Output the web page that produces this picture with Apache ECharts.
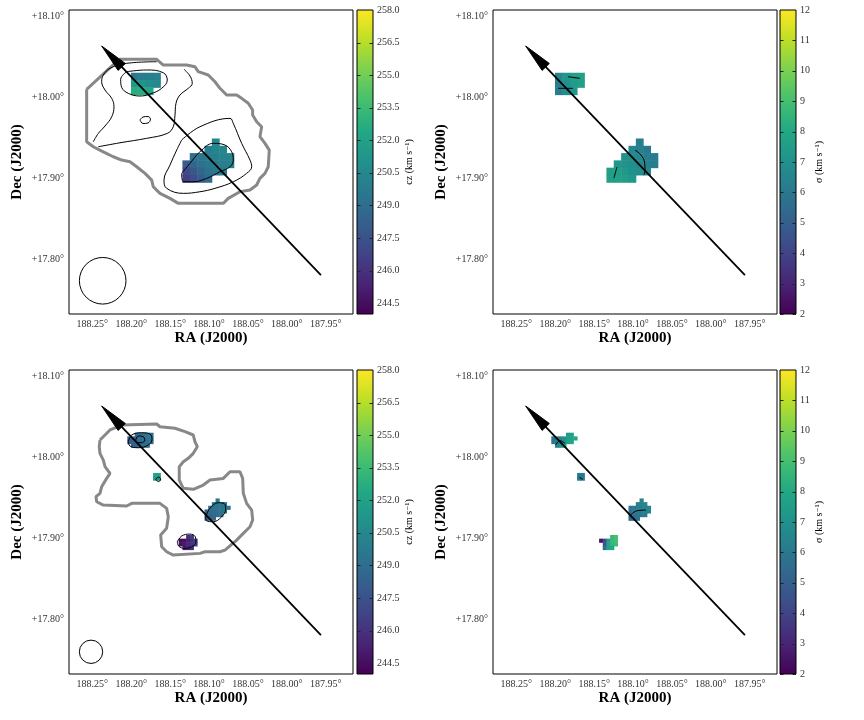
<!DOCTYPE html>
<html>
<head>
<meta charset="utf-8">
<title>HI velocity field and dispersion</title>
<script src="https://cdn.jsdelivr.net/npm/echarts@6/dist/echarts.min.js"></script>
<style>
  html, body { margin: 0; padding: 0; background: #fff; }
  #chart { width: 864px; height: 720px; }
</style>
</head>
<body>
<div id="chart"></div>
<script>
// tick labels
const raTicks = [188.25, 188.20, 188.15, 188.10, 188.05, 188.00, 187.95];
const decTicks = [17.80, 17.90, 18.00, 18.10];
const czTicks = [244.5, 246.0, 247.5, 249.0, 250.5, 252.0, 253.5, 255.0, 256.5, 258.0];
const sigmaTicks = [2, 3, 4, 5, 6, 7, 8, 9, 10, 11, 12];

// pixel centres of the low (top row) and high (bottom row) resolution cubes
const raLo = [188.1956, 188.1862, 188.1767, 188.1673, 188.1578, 188.1484, 188.1390, 188.1295,
  188.1201, 188.1106, 188.1012, 188.0917, 188.0823, 188.0729, 188.0634];
const decLo = [18.0261, 18.0171, 18.0081, 17.9991, 17.9901, 17.9811, 17.9721, 17.9630,
  17.9540, 17.9450, 17.9360, 17.9270, 17.9180, 17.9090, 17.9000];
const raHi = [188.2074, 188.2027, 188.1980, 188.1932, 188.1885, 188.1838, 188.1791, 188.1743,
  188.1696, 188.1649, 188.1602, 188.1555, 188.1507, 188.1460, 188.1413, 188.1366, 188.1318,
  188.1271, 188.1224, 188.1177, 188.1130, 188.1082, 188.1035, 188.0988, 188.0941, 188.0893,
  188.0846, 188.0799, 188.0752];
const decHi = [18.0374, 18.0329, 18.0284, 18.0239, 18.0194, 18.0149, 18.0104, 18.0059,
  18.0014, 17.9969, 17.9924, 17.9878, 17.9833, 17.9788, 17.9743, 17.9698, 17.9653, 17.9608,
  17.9563, 17.9518, 17.9473, 17.9428, 17.9383, 17.9338, 17.9293, 17.9248, 17.9203, 17.9157,
  17.9112, 17.9067, 17.9022, 17.8977, 17.8932, 17.8887];
const pixLo = [0.00944, 0.00901];
const pixHi = [0.00472, 0.00450];

// map rows: [row, first column, values...]
const czLo = [
  [0, 0, [249.6, 249.8, 250.0, 250.2]],
  [1, 0, [251.5, 251.2, 250.8, 250.5]],
  [2, 0, [252.6, 252.6, 252.3]],
  [9, 11, [250.5]],
  [10, 10, [250.0, 250.3, 250.4]],
  [11, 8, [249.2, 249.5, 249.8, 250.0, 250.2, 250.3]],
  [12, 7, [248.0, 248.6, 249.2, 249.6, 249.8, 250.0, 250.1]],
  [13, 7, [247.0, 247.8, 248.6, 249.2, 249.5, 249.8]],
  [14, 7, [246.6, 247.2, 248.0, 248.8]]
];
const sigmaLo = [
  [0, 0, [6.6, 7.2, 7.5, 7.6]],
  [1, 0, [6.3, 6.9, 7.4, 7.6]],
  [2, 0, [6.2, 6.8, 7.2]],
  [9, 11, [6.2]],
  [10, 10, [6.6, 6.3, 6.1]],
  [11, 9, [7.0, 6.8, 6.5, 6.2, 6.1]],
  [12, 8, [7.2, 7.1, 6.9, 6.6, 6.3, 6.2]],
  [13, 7, [7.6, 7.5, 7.3, 7.0, 6.8, 6.6]],
  [14, 7, [7.6, 7.6, 7.5, 7.3]]
];
const czHi = [
  [2, 3, [248.8, 249.0, 249.2, 249.3, 249.4]],
  [3, 1, [248.2, 248.5, 248.7, 248.9, 249.1, 249.2, 249.3]],
  [4, 1, [248.0, 248.3, 248.6, 248.8, 249.0, 249.1, 249.2]],
  [5, 2, [248.2, 248.5, 248.7, 248.9, 249.0]],
  [13, 8, [252.2, 252.2]],
  [14, 8, [251.3, 251.3]],
  [20, 25, [249.6]],
  [21, 24, [249.3, 249.4, 249.5, 249.6]],
  [22, 23, [249.0, 249.2, 249.3, 249.4, 249.5, 249.5]],
  [23, 22, [248.6, 248.8, 249.0, 249.2, 249.3, 249.4]],
  [24, 22, [248.4, 248.6, 248.8, 249.0, 249.1]],
  [25, 22, [248.3, 248.5, 248.7]],
  [30, 17, [245.8, 246.5]],
  [31, 15, [244.3, 244.6, 245.2, 245.9, 246.4]],
  [32, 15, [244.5, 244.9, 245.5, 246.0, 246.3]],
  [33, 16, [245.0, 245.4, 245.8]]
];
const sigmaHi = [
  [2, 5, [7.4, 7.6]],
  [3, 1, [5.8, 6.0, 6.4, 7.0, 7.5, 7.8, 7.9]],
  [4, 1, [5.9, 6.1, 6.5, 7.1, 7.6, 7.9]],
  [5, 2, [6.4, 6.8, 7.3]],
  [13, 8, [6.1, 6.1]],
  [14, 8, [6.1, 6.1]],
  [20, 25, [6.4]],
  [21, 24, [6.3, 6.4, 6.5]],
  [22, 22, [5.8, 6.0, 6.2, 6.3, 6.4, 6.5]],
  [23, 22, [5.7, 5.9, 6.1, 6.2, 6.3, 6.4]],
  [24, 22, [5.5, 5.7, 5.9, 6.0, 6.1]],
  [25, 22, [5.4, 5.6, 5.8]],
  [30, 17, [8.6, 9.0]],
  [31, 14, [2.5, 4.3, 7.5, 8.7, 9.0]],
  [32, 15, [4.6, 7.8, 8.5, 8.8]],
  [33, 15, [5.5, 7.6, 8.0]]
];

// HI mask outlines (grey)
const outlineLo = [
  [188.2573, 18.0101], [188.2573, 17.9455], [188.2488, 17.9393], [188.2359, 17.9331],
  [188.2231, 17.9270], [188.2123, 17.9229], [188.2016, 17.9208], [188.1930, 17.9146],
  [188.1823, 17.9065], [188.1737, 17.8982], [188.1717, 17.8900], [188.1631, 17.8818],
  [188.1502, 17.8756], [188.1395, 17.8695], [188.0817, 17.8695], [188.0753, 17.8756],
  [188.0603, 17.8838], [188.0474, 17.8859], [188.0388, 17.8921], [188.0346, 17.9003],
  [188.0281, 17.9065], [188.0239, 17.9146], [188.0226, 17.9352], [188.0281, 17.9435],
  [188.0346, 17.9517], [188.0324, 17.9640], [188.0388, 17.9702], [188.0440, 17.9784],
  [188.0440, 17.9846], [188.0496, 17.9929], [188.0581, 17.9990], [188.0645, 18.0031],
  [188.0774, 18.0031], [188.0860, 18.0114], [188.0924, 18.0195], [188.1010, 18.0278],
  [188.1139, 18.0319], [188.1181, 18.0380], [188.1288, 18.0401], [188.1588, 18.0401],
  [188.1673, 18.0472], [188.2145, 18.0472], [188.2187, 18.0442], [188.2573, 18.0101]
];
const outlineHi = [
  [188.2402, 18.0216], [188.2273, 18.0340], [188.2123, 18.0401], [188.1673, 18.0414],
  [188.1631, 18.0380], [188.1438, 18.0361], [188.1309, 18.0319], [188.1203, 18.0278],
  [188.1181, 18.0195], [188.1151, 18.0134], [188.1203, 18.0052], [188.1267, 17.9990],
  [188.1331, 17.9948], [188.1383, 17.9887], [188.1383, 17.9723], [188.1331, 17.9620],
  [188.1203, 17.9608], [188.1074, 17.9661], [188.0988, 17.9723], [188.0817, 17.9743],
  [188.0731, 17.9825], [188.0603, 17.9825], [188.0568, 17.9743], [188.0560, 17.9559],
  [188.0517, 17.9435], [188.0452, 17.9352], [188.0439, 17.9229], [188.0474, 17.9146],
  [188.0560, 17.9065], [188.0645, 17.8982], [188.0795, 17.8859], [188.0860, 17.8838],
  [188.1052, 17.8838], [188.1117, 17.8818], [188.1460, 17.8797], [188.1545, 17.8838],
  [188.1609, 17.8900], [188.1622, 17.9044], [188.1545, 17.9127], [188.1524, 17.9270],
  [188.1545, 17.9373], [188.1631, 17.9435], [188.1994, 17.9435], [188.2059, 17.9402],
  [188.2359, 17.9414], [188.2444, 17.9455], [188.2453, 17.9517], [188.2402, 17.9559],
  [188.2380, 17.9640], [188.2316, 17.9743], [188.2273, 17.9805], [188.2337, 17.9887],
  [188.2359, 17.9969], [188.2402, 18.0052], [188.2411, 18.0134], [188.2402, 18.0216]
];

// column density contours (black)
const contoursLo = [
  [[188.1673, 18.0442], [188.2059, 18.0422], [188.2273, 18.0361], [188.2359, 18.0278],
   [188.2380, 18.0195], [188.2337, 18.0093], [188.2251, 17.9990], [188.2222, 17.9887],
   [188.2251, 17.9763], [188.2337, 17.9649], [188.2423, 17.9558], [188.2488, 17.9455]],
  [[188.1322, 18.0348], [188.1245, 18.0266], [188.1216, 18.0175], [188.1267, 18.0114],
   [188.1374, 18.0031], [188.1425, 17.9929], [188.1438, 17.9784], [188.1460, 17.9640],
   [188.1537, 17.9558], [188.1802, 17.9497], [188.2145, 17.9442], [188.2423, 17.9393]],
  [[188.2059, 18.0319], [188.1802, 18.0340], [188.1588, 18.0306], [188.1537, 18.0216],
   [188.1609, 18.0114], [188.1759, 18.0043], [188.1888, 18.0019], [188.2038, 18.0052],
   [188.2123, 18.0126], [188.2136, 18.0225], [188.2059, 18.0319]],
  [[188.1888, 17.9723], [188.1849, 17.9760], [188.1785, 17.9766], [188.1753, 17.9735],
   [188.1785, 17.9686], [188.1849, 17.9680], [188.1888, 17.9723]],
  [[188.1352, 17.9065], [188.1245, 17.9188], [188.1117, 17.9331], [188.0946, 17.9435],
   [188.0795, 17.9414], [188.0709, 17.9331], [188.0689, 17.9229], [188.0731, 17.9146],
   [188.0860, 17.9085], [188.1031, 17.9003], [188.1203, 17.8961], [188.1331, 17.8961],
   [188.1352, 17.9065]],
  [[188.1352, 17.9476], [188.1117, 17.9640], [188.0731, 17.9743], [188.0689, 17.9682],
   [188.0581, 17.9435], [188.0474, 17.9229], [188.0452, 17.9146], [188.0517, 17.9065],
   [188.0689, 17.8961], [188.0924, 17.8880], [188.1117, 17.8838], [188.1331, 17.8818],
   [188.1545, 17.8880], [188.1579, 17.8982], [188.1502, 17.9167], [188.1416, 17.9352],
   [188.1352, 17.9476]]
];
const contoursHi = [
  [[188.2038, 18.0195], [188.1994, 18.0278], [188.1866, 18.0306], [188.1759, 18.0290],
   [188.1733, 18.0225], [188.1781, 18.0155], [188.1910, 18.0121], [188.2016, 18.0142],
   [188.2038, 18.0195]],
  [[188.1943, 18.0216], [188.1910, 18.0266], [188.1845, 18.0257], [188.1827, 18.0216],
   [188.1866, 18.0183], [188.1922, 18.0183], [188.1943, 18.0216]],
  [[188.1682, 17.9731], [188.1653, 17.9760], [188.1622, 17.9731], [188.1653, 17.9702],
   [188.1682, 17.9731]],
  [[188.1043, 17.9270], [188.0988, 17.9373], [188.0882, 17.9443], [188.0808, 17.9435],
   [188.0786, 17.9361], [188.0838, 17.9270], [188.0946, 17.9208], [188.1031, 17.9220],
   [188.1043, 17.9270]],
  [[188.1408, 17.8961], [188.1352, 17.9032], [188.1245, 17.9056], [188.1177, 17.9023],
   [188.1168, 17.8961], [188.1223, 17.8900], [188.1322, 17.8880], [188.1390, 17.8908],
   [188.1408, 17.8961]]
];
const sigmaContoursLo = [
  [[188.1836, 18.0257], [188.1682, 18.0237]],
  [[188.1965, 18.0114], [188.1772, 18.0114]],
  [[188.0975, 17.9352], [188.0898, 17.9291], [188.0853, 17.9204], [188.0847, 17.9106], [188.0860, 17.9044]],
  [[188.1207, 17.9143], [188.1245, 17.9007]]
];
const sigmaContoursHi = [
  [[188.1994, 18.0155], [188.1939, 18.0208], [188.1875, 18.0175]],
  [[188.1040, 17.9278], [188.0988, 17.9328], [188.0911, 17.9349], [188.0834, 17.9352]],
  [[188.1691, 17.9756], [188.1647, 17.9731]]
];

// major axis arrow and beams [ra, dec, diameter in deg]
const arrowTip = [188.2380, 18.0636];
const arrowTail = [187.9562, 17.7810];
const beamLo = [188.2367, 17.7740, 0.0575];
const beamHi = [188.2517, 17.7604, 0.0288];

const viridis = ['#440154', '#482475', '#414487', '#355f8d', '#2a788e', '#21918c',
  '#22a884', '#44bf70', '#7ad151', '#bddf26', '#fde725'];
const font = "'Liberation Serif', 'DejaVu Serif', serif";

const chart = echarts.init(document.getElementById("chart"));

const panels = [
  { left: 69, top: 10, cbLeft: 357, cells: czLo, ra: raLo, dec: decLo, pix: pixLo,
    outline: outlineLo, contours: contoursLo, beam: beamLo, kind: "cz" },
  { left: 493, top: 10, cbLeft: 780, cells: sigmaLo, ra: raLo, dec: decLo, pix: pixLo,
    outline: null, contours: sigmaContoursLo, beam: null, kind: "sigma" },
  { left: 69, top: 370, cbLeft: 357, cells: czHi, ra: raHi, dec: decHi, pix: pixHi,
    outline: outlineHi, contours: contoursHi, beam: beamHi, kind: "cz" },
  { left: 493, top: 370, cbLeft: 780, cells: sigmaHi, ra: raHi, dec: decHi, pix: pixHi,
    outline: null, contours: sigmaContoursHi, beam: null, kind: "sigma" }
];

const scales = {
  cz: { min: 244.0, max: 258.0, ticks: czTicks, fmt: v => v.toFixed(1), name: "cz (km s⁻¹)", gap: 31 },
  sigma: { min: 2, max: 12, ticks: sigmaTicks, fmt: v => String(v), name: "σ (km s⁻¹)", gap: 17 }
};

const grid = [], xAxis = [], yAxis = [], series = [], visualMap = [];

panels.forEach((p, i) => {
  grid.push({ left: p.left, top: p.top, width: 284, height: 304, show: true,
    borderColor: "#000", borderWidth: 1, backgroundColor: "#fff" });
  xAxis.push({
    type: "value", gridIndex: i, min: 187.915, max: 188.280, inverse: true,
    splitLine: { show: false }, axisLine: { show: false }, axisTick: { show: false },
    axisLabel: { customValues: raTicks, formatter: v => v.toFixed(2) + "°",
      fontFamily: font, fontSize: 10, color: "#333", margin: 5 },
    name: "RA (J2000)", nameLocation: "middle", nameGap: 17,
    nameTextStyle: { fontFamily: font, fontSize: 15, fontWeight: "bold", color: "#000" }
  });
  yAxis.push({
    type: "value", gridIndex: i, min: 17.733, max: 18.108,
    splitLine: { show: false }, axisLine: { show: false }, axisTick: { show: false },
    axisLabel: { customValues: decTicks, formatter: v => "+" + v.toFixed(2) + "°",
      fontFamily: font, fontSize: 10, color: "#333", margin: 5 },
    name: "Dec (J2000)", nameLocation: "middle", nameGap: 44, nameRotate: 90,
    nameTextStyle: { fontFamily: font, fontSize: 15, fontWeight: "bold", color: "#000" }
  });
});

// colorbar grids
panels.forEach((p, i) => {
  const s = scales[p.kind];
  grid.push({ left: p.cbLeft, top: p.top, width: 16, height: 304 });
  xAxis.push({ type: "value", gridIndex: 4 + i, min: 0, max: 1, show: false });
  yAxis.push({
    type: "value", gridIndex: 4 + i, min: s.min, max: s.max, position: "right",
    splitLine: { show: false }, axisLine: { show: false }, axisTick: { show: false },
    axisLabel: { customValues: s.ticks, formatter: s.fmt, fontFamily: font, fontSize: 10,
      color: "#333", margin: 4 },
    name: s.name, nameLocation: "middle", nameGap: s.gap, nameRotate: 90,
    nameTextStyle: { fontFamily: font, fontSize: 10, color: "#000" }
  });
});

panels.forEach((p, i) => {
  const s = scales[p.kind];
  const data = [];
  p.cells.forEach(([row, col0, vals]) => {
    vals.forEach((v, n) => data.push([p.ra[col0 + n], p.dec[row], v]));
  });
  const pix = p.pix;
  visualMap.push({ show: false, type: "continuous", seriesIndex: series.length, dimension: 2,
    min: s.min, max: s.max, inRange: { color: viridis } });
  series.push({
    type: "custom", xAxisIndex: i, yAxisIndex: i, clip: true, z: 2,
    encode: { x: 0, y: 1 }, data,
    renderItem: (params, api) => {
      const a = api.coord([api.value(0) + pix[0] / 2, api.value(1) + pix[1] / 2]);
      const b = api.coord([api.value(0) - pix[0] / 2, api.value(1) - pix[1] / 2]);
      return { type: "rect",
        shape: { x: Math.min(a[0], b[0]), y: Math.min(a[1], b[1]),
          width: Math.abs(b[0] - a[0]) + 0.5, height: Math.abs(b[1] - a[1]) + 0.5 },
        style: { fill: api.visual("color") } };
    }
  });

  if (p.outline) {
    series.push({ type: "line", xAxisIndex: i, yAxisIndex: i, data: p.outline, z: 3,
      symbol: "none", silent: true, lineStyle: { color: "#888", width: 3 } });
  }
  p.contours.forEach(c => {
    series.push({ type: "line", xAxisIndex: i, yAxisIndex: i, data: c, z: 4,
      symbol: "none", smooth: 0.4, silent: true, lineStyle: { color: "#000", width: 1 } });
  });

  series.push({
    type: "custom", xAxisIndex: i, yAxisIndex: i, z: 6, silent: true,
    encode: { x: [0, 2], y: [1, 3] },
    data: [[arrowTip[0], arrowTip[1], arrowTail[0], arrowTail[1]]],
    renderItem: (params, api) => {
      const a = api.coord([api.value(0), api.value(1)]);
      const b = api.coord([api.value(2), api.value(3)]);
      const len = Math.hypot(b[0] - a[0], b[1] - a[1]);
      const d = [(b[0] - a[0]) / len, (b[1] - a[1]) / len];
      const n = [-d[1], d[0]];
      const L = 29, w = 5;
      const base = [a[0] + d[0] * L, a[1] + d[1] * L];
      return { type: "group", children: [
        { type: "line", shape: { x1: a[0] + d[0] * 10, y1: a[1] + d[1] * 10, x2: b[0], y2: b[1] },
          style: { stroke: "#000", lineWidth: 1.8 } },
        { type: "polygon", shape: { points: [a,
            [base[0] + n[0] * w, base[1] + n[1] * w],
            [base[0] - n[0] * w, base[1] - n[1] * w]] },
          style: { fill: "#000", stroke: "#000", lineWidth: 1 } }
      ] };
    }
  });

  if (p.beam) {
    series.push({
      type: "custom", xAxisIndex: i, yAxisIndex: i, z: 6, silent: true,
      encode: { x: 0, y: 1 }, data: [p.beam],
      renderItem: (params, api) => {
        const c = api.coord([api.value(0), api.value(1)]);
        const r = api.size([0, api.value(2)])[1] / 2;
        return { type: "circle", shape: { cx: c[0], cy: c[1], r },
          style: { fill: "none", stroke: "#000", lineWidth: 1 } };
      }
    });
  }

  // colorbar with inner ticks on both edges
  series.push({
    type: "custom", xAxisIndex: 4 + i, yAxisIndex: 4 + i, z: 1, silent: true,
    data: [[0.5, s.min]],
    renderItem: (params, api) => {
      const cs = params.coordSys;
      const children = [{ type: "rect",
        shape: { x: cs.x, y: cs.y, width: cs.width, height: cs.height },
        style: { stroke: "#000", lineWidth: 1, fill: { type: "linear", x: 0, y: 1, x2: 0, y2: 0,
          colorStops: viridis.map((c, k) => ({ offset: k / (viridis.length - 1), color: c })) } } }];
      s.ticks.forEach(t => {
        const y = Math.round(api.coord([0, t])[1]) + 0.5;
        if (y <= cs.y + 1) return;
        children.push({ type: "line", shape: { x1: cs.x, y1: y, x2: cs.x + 3.5, y2: y },
          style: { stroke: "#222", lineWidth: 1 } });
        children.push({ type: "line", shape: { x1: cs.x + cs.width - 3.5, y1: y, x2: cs.x + cs.width, y2: y },
          style: { stroke: "#222", lineWidth: 1 } });
      });
      return { type: "group", children };
    }
  });
});

chart.setOption({
  animation: false,
  backgroundColor: "#fff",
  grid, xAxis, yAxis, visualMap, series
});
</script>
</body>
</html>
